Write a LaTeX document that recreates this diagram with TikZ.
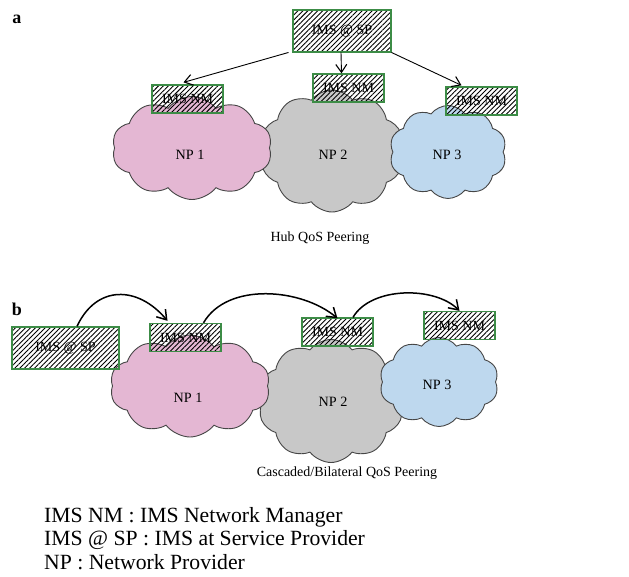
\documentclass[tikz,border=0pt]{standalone}
\usepackage{fontspec}
\setmainfont{Liberation Serif}
\usetikzlibrary{shapes.symbols,patterns.meta,arrows.meta,calc}
\definecolor{boxgreen}{RGB}{60,140,70}
\definecolor{pinkc}{RGB}{228,183,211}
\definecolor{greyc}{RGB}{200,200,200}
\definecolor{bluec}{RGB}{190,216,238}
\definecolor{cloudline}{RGB}{70,70,70}
\begin{document}
\begin{tikzpicture}[x=1pt,y=1pt,
  hatchbox/.style={draw=boxgreen, line width=1.3pt,
    pattern={Lines[angle=45,distance=3.5pt,line width=0.9pt]},
    minimum width=71pt, minimum height=28pt, inner sep=0pt,
    font=\fontsize{14}{14}\selectfont},
  spbox/.style={hatchbox, minimum height=42pt},
  cloudst/.style={cloud, cloud puffs=10, cloud puff arc=105, cloud ignores aspect,
    draw=cloudline, line width=0.9pt, inner sep=0pt},
  cloudtext/.style={font=\fontsize{14.2}{14}\selectfont, inner sep=0pt},
  captext/.style={font=\fontsize{14}{14}\selectfont, inner sep=0pt, anchor=base},
  legtext/.style={font=\fontsize{21.7}{21}\selectfont, inner sep=0pt, anchor=base west},
  paneltext/.style={font=\fontsize{18}{18}\selectfont\bfseries, inner sep=0pt},
  arra/.style={line width=0.9pt, -{Straight Barb[length=8pt,width=11pt,line width=1.1pt]}},
  arrb/.style={line width=1.5pt, -{Straight Barb[length=9pt,width=12pt,line width=1.5pt]}}
]
\useasboundingbox (0,0) rectangle (629,-576);

% ---------- panel a ----------
\node[paneltext] (la) at (17,-19) {a};
\node[cloudst, fill=greyc, minimum width=144pt, minimum height=122pt] (np2a) at (332,-151) {};
\node[cloudst, fill=pinkc, minimum width=160pt, minimum height=103pt] (np1a) at (192,-148) {};
\node[cloudst, fill=bluec, minimum width=117pt, minimum height=93pt] (np3a) at (448,-152) {};
\node[cloudtext] (t1a) at (190,-155) {NP 1};
\node[cloudtext] (t2a) at (333,-155) {NP 2};
\node[cloudtext] (t3a) at (447,-155) {NP 3};
\node[spbox, minimum width=98pt] (spa) at (342,-31) {IMS @ SP};
\node[hatchbox] (nm1a) at (187.5,-99) {IMS NM};
\node[hatchbox] (nm2a) at (348.5,-88) {IMS NM};
\node[hatchbox] (nm3a) at (481.5,-101) {IMS NM};
\draw[arra] ([xshift=-4pt]spa.south west) -- ([xshift=-4pt,yshift=2pt]nm1a.north);
\draw[arra] ([xshift=-1pt]spa.south) -- ([xshift=-7pt]nm2a.north);
\draw[arra] (spa.south east) -- ([xshift=-20pt,yshift=1pt]nm3a.north);
\node[captext] (capa) at (320,-241) {Hub QoS Peering};

% ---------- panel b ----------
\node[paneltext] (lb) at (17,-309) {b};
\node[cloudst, fill=greyc, minimum width=146pt, minimum height=123pt] (np2b) at (331,-401) {};
\node[cloudst, fill=pinkc, minimum width=160pt, minimum height=102pt] (np1b) at (190,-386) {};
\node[cloudst, fill=bluec, minimum width=119pt, minimum height=89pt] (np3b) at (439,-382) {};
\node[cloudtext] (t1b) at (188,-398) {NP 1};
\node[cloudtext] (t2b) at (333,-402) {NP 2};
\node[cloudtext] (t3b) at (437,-385) {NP 3};
\node[spbox, minimum width=107pt] (spb) at (65.5,-348) {IMS @ SP};
\node[hatchbox] (nm1b) at (185.5,-337.5) {IMS NM};
\node[hatchbox] (nm2b) at (337.5,-332) {IMS NM};
\node[hatchbox] (nm3b) at (459.5,-325.5) {IMS NM};
\draw[arrb] ([xshift=11.5pt]spb.north) to[out=65,in=130,looseness=1.3] ([xshift=-18pt,yshift=2pt]nm1b.north);
\draw[arrb] ([xshift=18pt]nm1b.north) to[out=60,in=140,looseness=0.9] ([yshift=-1pt]nm2b.north);
\draw[arrb] ([xshift=15.5pt]nm2b.north) to[out=60,in=135,looseness=0.85] (nm3b.north);
\node[captext] (capb) at (347,-476) {Cascaded/Bilateral QoS Peering};

% ---------- legend ----------
\node[legtext] (leg1) at (44,-522) {IMS NM : IMS Network Manager};
\node[legtext] (leg2) at (44,-545) {IMS @ SP : IMS at Service Provider};
\node[legtext] (leg3) at (44,-569) {NP : Network Provider};
\end{tikzpicture}
\end{document}
